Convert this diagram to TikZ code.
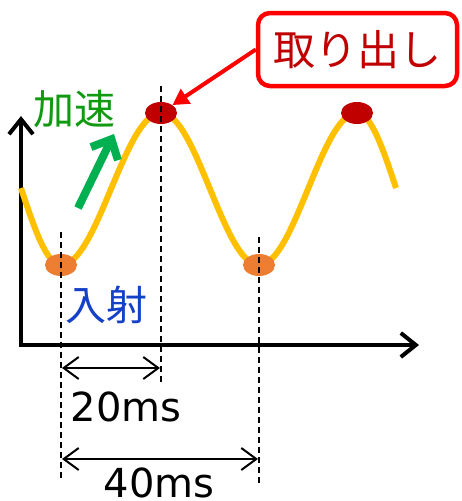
\documentclass[tikz,border=0pt]{standalone}
\usepackage{fontspec}
\setmainfont{DejaVu Sans}
\newfontfamily\jp{Noto Sans CJK JP}
\usetikzlibrary{arrows.meta,shapes.geometric}
\definecolor{waveC}{HTML}{FFC000}
\definecolor{orangeC}{HTML}{ED7D31}
\definecolor{darkredC}{HTML}{C00000}
\definecolor{greenT}{HTML}{119A11}
\definecolor{greenA}{HTML}{00B050}
\definecolor{blueT}{HTML}{1540C8}
\begin{document}
\begin{tikzpicture}[x=1pt,y=-1pt,
  wave/.style={draw=waveC,line width=6pt},
  dotnode/.style={ellipse,minimum width=32pt,minimum height=22pt,inner sep=0pt},
  axisline/.style={draw=black,line width=4pt,-{Straight Barb[length=15pt,width=24pt]}},
  dashline/.style={draw=black,line width=2.2pt,dash pattern=on 6pt off 4pt},
  dimline/.style={draw=black,line width=2pt,{Straight Barb[length=15pt,width=22pt]}-{Straight Barb[length=15pt,width=22pt]}},
  jptext/.style={font=\jp\fontsize{41}{49}\selectfont,inner sep=0pt},
  numtext/.style={font=\fontsize{40}{48}\selectfont,inner sep=0pt},
]
\useasboundingbox (0,0) rectangle (461,501);

% axes
\coordinate (org) at (21,345);
\coordinate (ytip) at (21,116);
\coordinate (xtip) at (419,345);
\draw[axisline] (org) -- (ytip);
\draw[axisline] ([xshift=-2pt]org) -- (xtip);

% wave
\draw[wave] (21,188) sin (61,265) cos (111,189) sin (161,113) cos (210,189)
  sin (259,265) cos (308,189) sin (357,113) cos (396,188);

% dots
\node[dotnode,fill=orangeC] (in1) at (61,265) {};
\node[dotnode,fill=orangeC] (in2) at (259,265) {};
\node[dotnode,fill=darkredC] (pk1) at (161,113) {};
\node[dotnode,fill=darkredC] (pk2) at (357,113) {};

% dashed guides
\coordinate (d1t) at (61,232);  \coordinate (d1b) at (61,481);
\coordinate (d2t) at (161,86);  \coordinate (d2b) at (161,382);
\coordinate (d3t) at (259,237); \coordinate (d3b) at (259,484);
\draw[dashline] (d1t) -- (d1b);
\draw[dashline] (d2t) -- (d2b);
\draw[dashline] (d3t) -- (d3b);

% dimension arrows
\coordinate (a1l) at (62,368);  \coordinate (a1r) at (160,368);
\coordinate (a2l) at (62,459);  \coordinate (a2r) at (258,459);
\draw[dimline] (a1l) -- (a1r);
\draw[dimline] (a2l) -- (a2r);
\node[numtext] (t20) at (126,407) {20ms};
\node[numtext] (t40) at (159,483) {40ms};

% labels
\node[jptext,text=greenT] (acc) at (75,109) {加速};
\node[jptext,text=blueT] (inj) at (106,305) {入射};

% green arrow
\coordinate (ga1) at (78,208);
\coordinate (ga2) at (114,134);
\draw[draw=greenA,line width=8pt,-{Straight Barb[length=16pt,width=30pt]}] (ga1) -- (ga2);

% callout
\node[draw=red,line width=4.5pt,rounded corners=12pt,fill=white,
  minimum width=199pt,minimum height=73pt,inner sep=0pt,
  text=darkredC,font=\jp\fontsize{42}{50}\selectfont] (take) at (357.5,49.5) {取り出し};
\draw[draw=red,line width=4pt,-{Triangle[length=16pt,width=17pt]}] (take.west) -- (pk1.north east);
\end{tikzpicture}
\end{document}
